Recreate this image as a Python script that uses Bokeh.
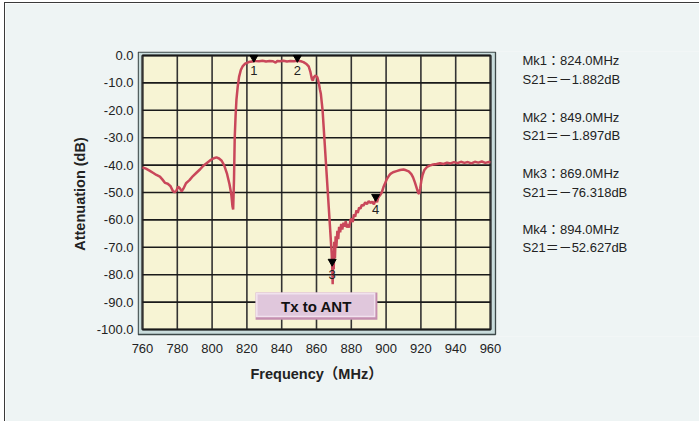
from bokeh.plotting import figure
from bokeh.models import Range1d, FixedTicker, PrintfTickFormatter, Label, ColumnDataSource, Title
from bokeh.core.properties import value
from bokeh.embed import file_html
from bokeh.resources import INLINE

# ---------------- data ----------------
freq = [760, 762, 764, 766, 768, 770, 771.5, 773, 774.5, 776, 777.5, 778.5, 779.5, 780.5, 781.5,
        782.5, 783.5, 785, 787, 789, 791, 793, 795, 797, 799, 801, 802.5, 804, 805.5, 807,
        808.5, 810, 811, 811.7, 812.1, 812.6, 813, 813.5, 814, 814.7, 815.5, 816.5, 817.5, 819,
        821, 823, 824, 825, 827, 829, 831, 833, 835, 836.5, 837.5, 839, 841, 843, 845, 847,
        849, 851, 852.5, 854, 855.5, 856.5, 857.3, 857.9, 858.5, 859.5, 860.5, 861.3, 862,
        862.5, 863.5, 864.5, 865.5, 866.5, 867.5, 868.3, 868.7, 869.0, 869.3, 869.6, 869.9,
        870.2, 870.6, 871, 871.4, 872, 872.5, 873, 873.6, 874.2, 874.8, 875.5, 876.2, 876.8,
        877.5, 878.2, 878.8, 879.5, 880.2, 880.8, 881.5, 882.2, 883, 883.7, 884.5, 885.3, 886,
        887, 888, 889, 890, 891, 892, 893, 894, 894.8, 895.5, 896.5, 897.5, 898.5, 899.5,
        900.5, 901.5, 902.5, 904, 906, 908, 910, 911.5, 913, 914.5, 915.5, 916.5, 917.5, 918.5,
        919, 919.6, 920.3, 921, 922, 923.5, 925, 927, 929, 931, 933, 935, 937, 939, 941, 943,
        945, 947, 949, 951, 953, 955, 957, 959, 960]
s21 = [-40.8, -41.3, -42.0, -42.8, -43.6, -44.2, -45.3, -46.5, -46.8, -47.6, -49.5, -49.9, -49.3,
       -47.8, -48.5, -49.6, -48.6, -46.6, -45.5, -44.0, -42.8, -41.6, -40.2, -39.2, -38.2, -37.5,
       -37.2, -37.6, -38.4, -40.2, -43.0, -47.0, -50.5, -55.0, -56.2, -45.0, -30.0, -22.0, -16.0,
       -11.5, -7.8, -5.3, -4.0, -3.0, -2.4, -2.2, -1.9, -2.0, -2.1, -1.9, -2.2, -2.0, -2.1, -2.6,
       -2.0, -2.1, -1.9, -2.2, -2.0, -2.1, -1.9, -2.1, -2.4, -3.0, -4.0, -6.0, -8.5, -9.2, -7.9,
       -7.3, -8.0, -10.0, -12.5, -14.0, -20.0, -30.0, -40.0, -50.0, -60.0, -68.0, -72.0, -76.3,
       -83.5, -72.0, -78.0, -68.0, -74.0, -66.0, -70.0, -64.0, -67.0, -62.5, -64.5, -61.5, -63.5,
       -61.0, -62.5, -60.5, -62.8, -61.5, -62.8, -60.0, -59.5, -60.8, -58.0, -58.8, -56.5, -57.5,
       -55.5, -55.9, -54.5, -54.8, -53.6, -54.2, -53.2, -53.8, -53.4, -54.3, -52.6, -53.5, -51.8,
       -51.0, -50.0, -48.0, -46.5, -45.0, -44.0, -43.2, -42.6, -42.2, -41.8, -41.6, -41.9, -42.3,
       -43.3, -44.5, -46.2, -48.2, -50.2, -50.5, -48.5, -45.5, -43.5, -41.8, -40.7, -40.2, -39.8,
       -39.6, -39.3, -39.6, -39.1, -39.4, -38.9, -39.3, -38.8, -39.2, -38.9, -39.4, -38.8, -39.1,
       -38.7, -39.2, -38.9, -39.0]

marker_ids = ["1", "2", "3", "4"]
marker_freq = [824.0, 849.0, 869.0, 894.0]
marker_s21 = [-1.882, -1.897, -76.318, -52.627]
marker_text = ["Mk1：824.0MHz", "S21＝－1.882dB",
               "Mk2：849.0MHz", "S21＝－1.897dB",
               "Mk3：869.0MHz", "S21＝－76.318dB",
               "Mk4：894.0MHz", "S21＝－52.627dB"]

x_ticks = [760, 780, 800, 820, 840, 860, 880, 900, 920, 940, 960]
y_ticks = [0, -10, -20, -30, -40, -50, -60, -70, -80, -90, -100]
x_min, x_max = 760, 960
y_min, y_max = -100, 0
badge_text = "Tx to ANT"
x_title = "Frequency（MHz）"
y_title = "Attenuation (dB)"

# ---------------- layout / styling ----------------
FONT = "Liberation Sans, Noto Sans CJK JP"
BG = "#eef4f4"
W, H = 695, 419                 # canvas size (plus 5px / 3px margin+border)
FL, FT, FB = 132, 48, 86        # frame left, top, bottom border
FW = W - FL
FH = H - FT - FB
PX_X = 348 / (x_max - x_min)    # px per MHz
PX_Y = 274 / (y_max - y_min)    # px per dB
x0 = x_min - 5 / PX_X
y1 = y_max + 4 / PX_Y

p = figure(width=W, height=H, output_backend="svg", toolbar_location=None,
           x_range=Range1d(x0, x0 + FW / PX_X),
           y_range=Range1d(y1 - FH / PX_Y, y1),
           min_border_left=FL, min_border_right=0, min_border_top=FT, min_border_bottom=FB,
           background_fill_color=BG, border_fill_color=BG)
p.outline_line_color = None
p.grid.visible = False
p.styles = {"margin-left": "4px", "margin-top": "2px",
            "border-left": "1px solid #3a3a3a", "border-top": "1px solid #3a3a3a"}

# bevelled frame
p.quad(left=[x_min - 4.3 / PX_X], right=[x_max + 5.0 / PX_X],
       bottom=[y_min - 5 / PX_Y], top=[y_max + 3.3 / PX_Y],
       fill_color="#c9dcdc", line_color="#3d4848", line_width=1.3)
p.quad(left=[x_min], right=[x_max], bottom=[y_min], top=[y_max],
       fill_color="#f7f4d4", line_color="#222222", line_width=2)

# grid lines
p.segment(x0=x_ticks, x1=x_ticks, y0=[y_min] * len(x_ticks), y1=[y_max] * len(x_ticks),
          line_color="#333333", line_width=1.6)
p.segment(x0=[x_min] * len(y_ticks), x1=[x_max] * len(y_ticks), y0=y_ticks, y1=y_ticks,
          line_color="#1a1a1a", line_width=1.6)

# trace
p.line(freq, s21, line_color="#c9475a", line_width=2.5)

# markers
tri_y = [v + 3 / PX_Y for v in marker_s21]
p.scatter(marker_freq, tri_y, marker="inverted_triangle", size=8, fill_color="black", line_color="black")
msrc = ColumnDataSource(dict(x=marker_freq, y=marker_s21, t=marker_ids))
p.text(x="x", y="y", text="t", source=msrc, text_align="center", text_baseline="top",
       y_offset=5, text_font=value("Liberation Sans"), text_font_size="13px", text_color="#222222")

# badge "Tx to ANT"
bx0, bx1, by0, by1 = 825, 895, -96.4, -86.5
p.quad(left=[bx0], right=[bx1], bottom=[by0], top=[by1], fill_color="#c58fb0", line_color=None)
p.quad(left=[bx0], right=[bx1 - 2 / PX_X], bottom=[by0 + 2.5 / PX_Y], top=[by1],
       fill_color="#f1e2ee", line_color=None)
p.quad(left=[bx0 + 2 / PX_X], right=[bx1 - 3.5 / PX_X], bottom=[by0 + 4 / PX_Y], top=[by1 - 2 / PX_Y],
       fill_color="#e0c7dc", line_color=None)
p.text(x=[(bx0 + bx1) / 2], y=[(by0 + by1) / 2], text=[badge_text], text_align="center",
       text_baseline="middle", text_font=value("Liberation Sans"), text_font_style="bold",
       text_font_size="15px", text_color="#111111")

# axes
p.xaxis.ticker = FixedTicker(ticks=x_ticks)
p.yaxis.ticker = FixedTicker(ticks=y_ticks)
p.yaxis.formatter = PrintfTickFormatter(format="%.1f")
for ax in (p.xaxis, p.yaxis):
    ax.axis_line_color = None
    ax.major_tick_line_color = None
    ax.minor_tick_line_color = None
    ax.major_tick_out = 0
    ax.major_tick_in = 0
    ax.major_label_text_font = "Liberation Sans"
    ax.major_label_text_font_size = "13px"
    ax.major_label_text_color = "#222222"
p.xaxis.major_label_standoff = 7
p.yaxis.major_label_standoff = 4
p.yaxis.axis_label = y_title
p.yaxis.axis_label_text_font = FONT
p.yaxis.axis_label_text_font_style = "bold"
p.yaxis.axis_label_text_font_size = "14.5px"
p.yaxis.axis_label_text_color = "#222222"
p.yaxis.axis_label_standoff = 6

p.add_layout(Title(text=x_title, align="left", offset=113, standoff=17,
                   text_font=FONT, text_font_style="bold", text_font_size="14.5px",
                   text_color="#222222"), "below")

# marker readout text on the right
text_x = x_max + 32 / PX_X
text_dy = [5.3, 23.7, 62, 80.3, 118.3, 136.7, 173.7, 192.3]   # px below the 0 dB line
for t, dy in zip(marker_text, text_dy):
    p.add_layout(Label(x=text_x, y=y_max - dy / PX_Y, text=t,
                       text_font=FONT, text_font_size="13px", text_color="#222222",
                       text_baseline="middle"))

open("out.html", "w").write(file_html(p, INLINE))
